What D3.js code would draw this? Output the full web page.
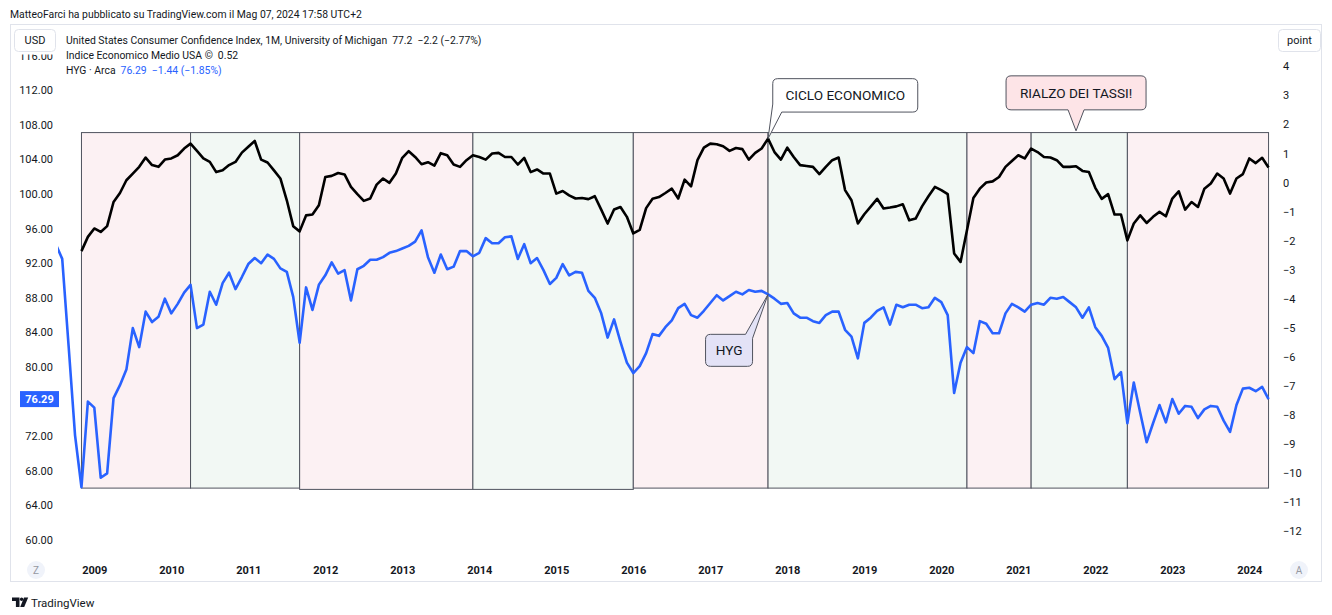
<!DOCTYPE html>
<html>
<head>
<meta charset="utf-8">
<script src="https://cdn.jsdelivr.net/npm/d3@7"></script>
<style>
  body { margin: 0; background: #fff; }
  svg { display: block; font-family: Roboto, "Noto Sans", sans-serif; }
</style>
</head>
<body>
<script>
//Monthly closes of HYG, first value is Jul 2008
var hygStart = "2008-07";
var hygValues = [
	94.2, 92.5, 82.4, 72.1, 66.1, 76.0,
	75.3, 67.2, 67.7, 76.4, 77.9, 79.7, 84.5, 82.3, 86.4, 85.2, 85.8, 87.9,
	86.2, 87.3, 88.6, 89.5, 84.5, 84.9, 88.7, 87.2, 89.7, 90.9, 89.0, 90.4,
	91.9, 92.6, 92.0, 93.0, 92.5, 91.4, 91.0, 88.1, 82.8, 89.2, 86.6, 89.5,
	90.6, 92.1, 90.8, 91.2, 87.7, 91.3, 91.7, 92.4, 92.4, 92.7, 93.2, 93.4,
	93.7, 94.0, 94.5, 95.8, 92.7, 90.9, 93.0, 91.3, 91.6, 93.4, 93.4, 92.8,
	93.2, 94.9, 94.3, 94.3, 95.0, 95.1, 92.5, 94.2, 92.0, 92.6, 91.2, 89.6,
	90.3, 91.9, 90.6, 91.0, 90.9, 88.8, 88.0, 86.2, 83.4, 85.5, 82.9, 80.5,
	79.3, 80.1, 81.6, 83.8, 83.6, 84.6, 85.4, 86.8, 87.3, 86.0, 85.7, 86.5,
	87.4, 88.3, 87.7, 88.2, 88.7, 88.4, 88.9, 88.7, 88.8, 88.4, 87.9, 87.3,
	87.4, 86.2, 85.7, 85.7, 85.3, 85.1, 86.0, 86.4, 86.4, 84.3, 83.5, 81.0,
	85.1, 85.7, 86.5, 86.9, 84.9, 87.2, 86.9, 87.2, 87.2, 86.8, 86.9, 88.0,
	87.5, 86.0, 77.0, 80.5, 82.3, 81.6, 85.3, 85.0, 83.9, 83.9, 86.2, 87.3,
	86.9, 86.4, 87.2, 87.4, 87.2, 88.0, 87.9, 88.1, 87.5, 86.9, 85.7, 86.9,
	84.6, 83.6, 82.2, 78.6, 79.4, 73.5, 78.2, 74.7, 71.3, 73.5, 75.6, 73.6,
	76.3, 74.6, 75.5, 75.4, 74.1, 75.1, 75.5, 75.4, 73.8, 72.5, 75.6, 77.5,
	77.6, 77.2, 77.7, 76.29
];

//Indice Economico Medio USA (right scale, points), first value is Nov 2008
var indexStart = "2008-11";
var indexValues = [
	-2.36, -1.87,
	-1.58, -1.70, -1.50, -0.67, -0.36, 0.08, 0.31, 0.54, 0.86, 0.60, 0.54, 0.79,
	0.83, 0.94, 1.17, 1.34, 1.09, 0.83, 0.71, 0.36, 0.42, 0.60, 0.71, 1.03,
	1.23, 1.43, 0.79, 0.69, 0.42, 0.14, -0.61, -1.50, -1.68, -1.13, -1.10, -0.78,
	0.19, 0.23, 0.33, 0.28, -0.15, -0.40, -0.63, -0.55, -0.07, 0.14, -0.01, 0.31,
	0.85, 1.08, 0.88, 0.63, 0.70, 0.58, 1.01, 0.94, 0.62, 0.54, 0.77, 0.94,
	0.88, 0.79, 1.00, 1.02, 0.88, 0.88, 0.62, 0.85, 0.36, 0.45, 0.31, 0.31,
	-0.38, -0.29, -0.44, -0.55, -0.53, -0.57, -0.47, -0.93, -1.41, -0.93, -0.84, -1.18,
	-1.75, -1.63, -0.88, -0.56, -0.50, -0.36, -0.21, -0.55, 0.10, -0.13, 0.77, 1.20,
	1.34, 1.32, 1.25, 1.09, 1.19, 1.15, 0.79, 1.02, 1.17, 1.51, 1.05, 0.79,
	1.20, 0.88, 0.60, 0.57, 0.54, 0.29, 0.54, 0.77, 0.86, -0.26, -0.61, -1.41,
	-1.09, -0.83, -0.56, -0.89, -0.86, -0.82, -0.75, -1.30, -1.24, -0.82, -0.47, -0.15,
	-0.26, -0.40, -2.44, -2.73, -1.64, -0.53, -0.21, 0.00, 0.04, 0.19, 0.54, 0.74,
	0.94, 0.83, 1.17, 1.05, 0.88, 0.86, 0.77, 0.54, 0.54, 0.56, 0.40, 0.36,
	-0.18, -0.56, -0.40, -1.10, -1.10, -1.99, -1.41, -1.13, -1.39, -1.18, -1.01, -1.16,
	-0.55, -0.30, -0.93, -0.67, -0.84, -0.21, -0.03, 0.31, 0.14, -0.38, 0.14, 0.29,
	0.83, 0.67, 0.85, 0.52
];

//Cycle rectangles: edges in months, phase and lower price of each box
var zoneEdges = ["2008-11", "2010-04", "2011-09", "2013-12", "2016-01", "2017-10", "2020-05", "2021-03", "2022-06", "2024-04"];
var zonePhases = ["down", "up", "down", "up", "down", "up", "down", "up", "down"];
var zoneTops = [107.1, 107.1, 107.1, 107.1, 107.1, 107.1, 107.1, 107.1, 107.1];
var zoneLows = [66.0, 66.0, 65.85, 65.85, 66.0, 66.0, 66.0, 66.0, 66.0];

//Callouts: text, anchor month, anchor value, scale it refers to
var noteTexts = ["CICLO ECONOMICO", "HYG", "RIALZO DEI TASSI!"];
var noteMonths = ["2017-10", "2017-10", "2021-10"];
var noteValues = [1.51, 88.4, 107.3];
var noteScales = ["right", "left", "left"];

//Axes labels
var yearLabels = ["2009", "2010", "2011", "2012", "2013", "2014", "2015", "2016", "2017", "2018", "2019", "2020", "2021", "2022", "2023", "2024"];
var leftTicks = [60, 64, 68, 72, 80, 84, 88, 92, 96, 100, 104, 108, 112, 116];
var rightTicks = [4, 3, 2, 1, 0, -1, -2, -3, -4, -5, -6, -7, -8, -9, -10, -11, -12];

var headerText = "MatteoFarci ha pubblicato su TradingView.com il Mag 07, 2024 17:58 UTC+2";
var legendNames = ["United States Consumer Confidence Index, 1M, University of Michigan", "Indice Economico Medio USA \u00a9", "HYG \u00b7 Arca"];
var legendValues = ["77.2  \u22122.2 (\u22122.77%)", "0.52", "76.29  \u22121.44 (\u22121.85%)"];

function monthIndex(s) {
	var p = s.split("-");
	return (+p[0] - 2009) * 12 + (+p[1] - 1);
}

var W = 1332, H = 615;
var textColor = "#131722", blue = "#2962ff";

var svg = d3.select("body").append("svg").attr("width", W).attr("height", H);

//Scales: one slot per monthly bar
var x = d3.scaleLinear().domain([0, 180]).range([94.3, 1249.3]);
var yL = d3.scaleLinear().domain([60, 116]).range([540, 55.6]);
var yR = d3.scaleLinear().domain([-12, 4]).range([531.3, 66.3]);

//Header and frame
svg.append("text").attr("x", 10).attr("y", 18).attr("font-size", 10.4).attr("fill", textColor).text(headerText);
svg.append("rect").attr("x", 10.5).attr("y", 24.5).attr("width", 1311).attr("height", 557)
	.attr("fill", "none").attr("stroke", "#e0e3eb");

svg.append("clipPath").attr("id", "pane").append("rect").attr("x", 58).attr("y", 25).attr("width", 1214).attr("height", 530);

var pane = svg.append("g").attr("clip-path", "url(#pane)");

//Rectangles of the cycle
var zones = zonePhases.map(function (p, i) {
	return {phase: p, m0: monthIndex(zoneEdges[i]), m1: monthIndex(zoneEdges[i + 1]), top: zoneTops[i], low: zoneLows[i]};
});
pane.append("g").selectAll("rect").data(zones).enter().append("rect")
	.attr("x", function (d) { return x(d.m0); })
	.attr("y", function (d) { return yL(d.top); })
	.attr("width", function (d) { return x(d.m1) - x(d.m0); })
	.attr("height", function (d) { return yL(d.low) - yL(d.top); })
	.attr("fill", function (d) { return d.phase == "down" ? "#fcf1f3" : "#f2f8f4"; })
	.attr("stroke", "#50535e").attr("stroke-width", 1);

//Series
var hygData = hygValues.map(function (v, i) { return {m: monthIndex(hygStart) + i, v: v}; });
var indexData = indexValues.map(function (v, i) { return {m: monthIndex(indexStart) + i, v: v}; });

pane.append("path").datum(indexData)
	.attr("d", d3.line().x(function (d) { return x(d.m); }).y(function (d) { return yR(d.v); }))
	.attr("fill", "none").attr("stroke", "#000").attr("stroke-width", 2.6).attr("stroke-linejoin", "round");
pane.append("path").datum(hygData)
	.attr("d", d3.line().x(function (d) { return x(d.m); }).y(function (d) { return yL(d.v); }))
	.attr("fill", "none").attr("stroke", blue).attr("stroke-width", 2.6).attr("stroke-linejoin", "round");

//Callouts
var notes = noteTexts.map(function (t, i) {
	var sc = noteScales[i] == "right" ? yR : yL;
	return {text: t, ax: x(monthIndex(noteMonths[i])), ay: sc(noteValues[i])};
});
var r = 5;
var noteG = svg.append("g").attr("font-size", 13.6).attr("font-weight", 400);
//CICLO ECONOMICO: box above right, tail from lower left corner
(function (n) {
	var L = n.ax + 4.7, T = n.ay - 60, R = L + 145, B = T + 33.4;
	var d = ["M", L + r, T, "H", R - r, "Q", R, T, R, T + r, "V", B - r, "Q", R, B, R - r, B,
		"H", L + 9, "L", n.ax, n.ay, "L", L, B - 8, "V", T + r, "Q", L, T, L + r, T, "Z"].join(" ");
	noteG.append("path").attr("d", d).attr("fill", "#fff").attr("stroke", "#50535e");
	noteG.append("text").attr("x", (L + R) / 2).attr("y", (T + B) / 2).attr("dy", "0.35em")
		.attr("text-anchor", "middle").attr("fill", textColor).text(n.text);
})(notes[0]);
//HYG: box below left, tail from upper right corner
(function (n) {
	var R = n.ax - 15.5, T = n.ay + 40, L = R - 47, B = T + 32;
	var d = ["M", L + r, T, "H", R - 7, "L", n.ax, n.ay, "L", R, T + 4, "V", B - r, "Q", R, B, R - r, B,
		"H", L + r, "Q", L, B, L, B - r, "V", T + r, "Q", L, T, L + r, T, "Z"].join(" ");
	noteG.append("path").attr("d", d).attr("fill", "#e3e2f6").attr("stroke", "#50535e");
	noteG.append("text").attr("x", (L + R) / 2).attr("y", (T + B) / 2).attr("dy", "0.35em")
		.attr("text-anchor", "middle").attr("fill", textColor).text(n.text);
})(notes[1]);
//RIALZO DEI TASSI!: box above, tail in the middle of the bottom edge
(function (n) {
	var L = n.ax - 70, R = n.ax + 70, B = n.ay - 21, T = B - 34;
	var d = ["M", L + r, T, "H", R - r, "Q", R, T, R, T + r, "V", B - r, "Q", R, B, R - r, B,
		"H", n.ax + 8, "L", n.ax, n.ay, "L", n.ax - 8, B,
		"H", L + r, "Q", L, B, L, B - r, "V", T + r, "Q", L, T, L + r, T, "Z"].join(" ");
	noteG.append("path").attr("d", d).attr("fill", "#fde4e7").attr("stroke", "#50535e");
	noteG.append("text").attr("x", n.ax).attr("y", (T + B) / 2).attr("dy", "0.35em")
		.attr("text-anchor", "middle").attr("fill", textColor).text(n.text);
})(notes[2]);

//Left price scale
var leftAxis = svg.append("g").attr("transform", "translate(53,0)")
	.call(d3.axisLeft(yL).tickValues(leftTicks).tickFormat(d3.format(".2f")).tickSize(0).tickPadding(0));
leftAxis.select(".domain").remove();
leftAxis.selectAll("text").attr("font-size", 11).attr("fill", textColor).attr("font-family", "Roboto, sans-serif");

//Right scale in points
var rightAxis = svg.append("g").attr("transform", "translate(1283,0)")
	.call(d3.axisRight(yR).tickValues(rightTicks).tickFormat(d3.format("d")).tickSize(0).tickPadding(0));
rightAxis.select(".domain").remove();
rightAxis.selectAll("text").attr("font-size", 11).attr("fill", textColor).attr("font-family", "Roboto, sans-serif");

//Time scale
var yearTicks = yearLabels.map(function (y) { return monthIndex(y + "-01"); });
var timeAxis = svg.append("g").attr("transform", "translate(0,563)")
	.call(d3.axisBottom(x).tickValues(yearTicks).tickFormat(function (d, i) { return yearLabels[i]; }).tickSize(0).tickPadding(3));
timeAxis.select(".domain").remove();
timeAxis.selectAll("text").attr("font-size", 11).attr("font-weight", 700).attr("fill", textColor).attr("font-family", "Roboto, sans-serif");

//Last price label of HYG
var lastHyg = hygValues[hygValues.length - 1];
svg.append("rect").attr("x", 20).attr("y", yL(lastHyg) - 8).attr("width", 39).attr("height", 16).attr("fill", blue);
svg.append("text").attr("x", 39.5).attr("y", yL(lastHyg)).attr("dy", "0.35em").attr("text-anchor", "middle")
	.attr("font-size", 11).attr("font-weight", 700).attr("fill", "#fff").text(d3.format(".2f")(lastHyg));

//The legend area hides the top of the highest price label
svg.append("rect").attr("x", 11).attr("y", 25).attr("width", 47).attr("height", 29.5).attr("fill", "#fff");

//Unit buttons
function unitBox(x0, w, label) {
	svg.append("rect").attr("x", x0 + 0.5).attr("y", 29.5).attr("width", w).attr("height", 22).attr("rx", 4)
		.attr("fill", "#fff").attr("stroke", "#e0e3eb");
	svg.append("text").attr("x", x0 + w / 2 + 0.5).attr("y", 40.5).attr("dy", "0.35em").attr("text-anchor", "middle")
		.attr("font-size", 11).attr("fill", textColor).text(label);
}
unitBox(14, 41, "USD");
unitBox(1278, 42, "point");

//Auto / log buttons under the scales
[["Z", 36], ["A", 1299]].forEach(function (b) {
	svg.append("circle").attr("cx", b[1]).attr("cy", 570).attr("r", 9).attr("fill", "#f0f3fa");
	svg.append("text").attr("x", b[1]).attr("y", 570).attr("dy", "0.35em").attr("text-anchor", "middle")
		.attr("font-size", 10).attr("fill", "#9598a1").text(b[0]);
});

//Legend
var legend = svg.append("g").attr("font-size", 10.4);
legendNames.forEach(function (name, i) {
	var t = legend.append("text").attr("x", 66).attr("y", 40 + i * 15).attr("dy", "0.35em").attr("fill", textColor)
		.attr("xml:space", "preserve");
	t.append("tspan").text(name);
	t.append("tspan").attr("dx", 5).attr("fill", i == 2 ? blue : textColor).text(legendValues[i]);
});

//Footer logo
var logo = svg.append("g").attr("fill", textColor);
logo.append("path").attr("d", "M12 597.5h7.5v9.5h-3.6v-6H12z");
logo.append("circle").attr("cx", 21.6).attr("cy", 599.3).attr("r", 1.7);
logo.append("path").attr("d", "M24 597.5h4.2l-4 9.5h-4z");
svg.append("text").attr("x", 31).attr("y", 602.5).attr("dy", "0.35em").attr("font-size", 11.5).attr("fill", textColor).text("TradingView");
</script>
</body>
</html>
